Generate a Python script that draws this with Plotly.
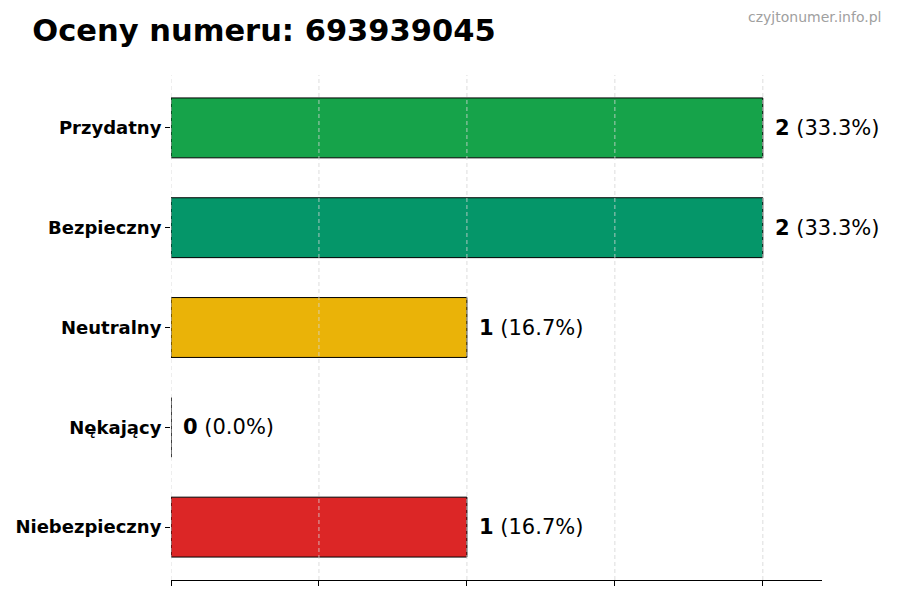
import plotly.graph_objects as go

categories = ['Niebezpieczny', 'Nękający', 'Neutralny', 'Bezpieczny', 'Przydatny']
counts = [1, 0, 1, 2, 2]
colors = ['#dc2626', '#9333ea', '#eab308', '#059669', '#16a34a']
phone = '693939045'
x_ticks = [0, 0.5, 1, 1.5, 2]

total = sum(counts)
labels = ['<b>%d</b> (%.1f%%)' % (c, c / total * 100) for c in counts]

fig = go.Figure()
fig.add_trace(go.Bar(
    x=counts, y=categories, orientation='h', width=0.6,
    marker=dict(color=colors, line=dict(color='black', width=1)),
    hoverinfo='skip'
))

for c, cat, lab in zip(counts, categories, labels):
    fig.add_annotation(x=c, y=cat, text=lab, showarrow=False, xanchor='left',
                       xshift=10, font=dict(family='DejaVu Sans', size=21, color='black'))

# dashed grid drawn over the bars, like the original
for t in x_ticks:
    fig.add_shape(type='line', xref='x', yref='paper', x0=t, x1=t, y0=0, y1=1, layer='above',
                  line=dict(color='#d4d4d4', width=0.8, dash='4px,3px'))

fig.add_annotation(text='czyjtonumer.info.pl', xref='paper', yref='paper', x=1.094, y=1.115,
                   xanchor='right', yanchor='middle', showarrow=False,
                   font=dict(family='DejaVu Sans', size=14, color='#a0a0a0'))

fig.update_layout(
    width=900, height=600,
    paper_bgcolor='white', plot_bgcolor='white',
    margin=dict(l=163, r=86, t=67, b=28, autoexpand=False),
    title=dict(text='<b>Oceny numeru: ' + phone + '</b>', x=0.027, xanchor='left', y=0.963,
               yanchor='middle', font=dict(family='DejaVu Sans', size=30.5, color='black')),
    showlegend=False,
    font=dict(family='DejaVu Sans', color='black'),
)
fig.update_xaxes(range=[0, 2.2], tickvals=x_ticks, showticklabels=False,
                 ticks='outside', ticklen=5, tickcolor='black', showgrid=False,
                 showline=True, linecolor='black', linewidth=1, zeroline=False)
fig.update_yaxes(range=[-0.53, 4.53], ticks='outside', ticklen=5, tickcolor='black',
                 showline=False, showgrid=False, zeroline=False, automargin=False,
                 tickfont=dict(family='DejaVu Sans', size=18, color='black'),
                 tickvals=categories, ticktext=['<b>' + c + '</b>' for c in categories])

fig.write_html("out.html")
